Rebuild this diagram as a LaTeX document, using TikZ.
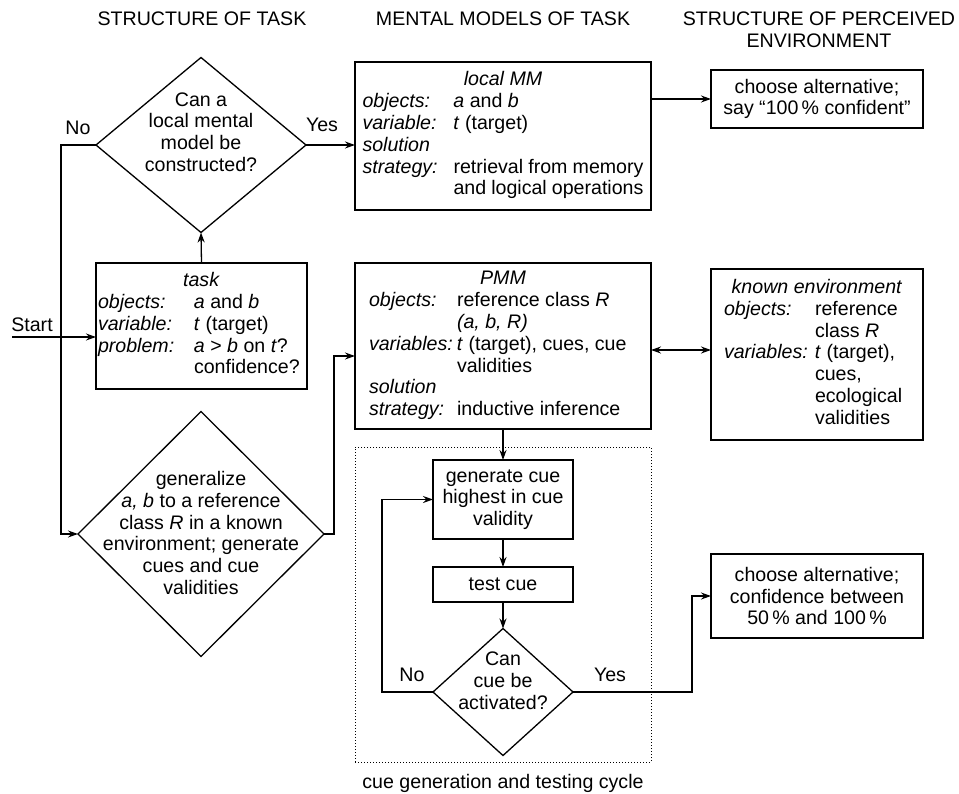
\documentclass[tikz,border=0pt]{standalone}
\usepackage{fontspec}
\setmainfont{Liberation Sans}
\usepackage{array}
\usetikzlibrary{arrows.meta,shapes.geometric}

\begin{document}
\begin{tikzpicture}[
  x=1pt,y=-1pt,
  >={Stealth[length=10pt,width=7pt]},
  every node/.style={font={\fontsize{19.6}{21.8}\selectfont}},
  box/.style={draw,line width=1.3pt,inner sep=0pt,outer sep=0pt,align=center},
  diam/.style={draw,diamond,line width=1.3pt,inner sep=0pt,outer sep=0pt},
  txt/.style={align=center,inner sep=0pt},
  conn/.style={->,line width=1.3pt}
]
\useasboundingbox (0,0) rectangle (959,794);
% column titles
\node[txt] (t1) at (202,19) {STRUCTURE OF TASK};
\node[txt] (t2) at (503,19) {MENTAL MODELS OF TASK};
\node[txt] (t3) at (819,30) {STRUCTURE OF PERCEIVED\\ENVIRONMENT};
% left column
\node[diam,minimum width=210pt,minimum height=175pt] (q1) at (201,145) {};
\node[txt] (q1txt) at (201,132) {Can a\\local mental\\model be\\constructed?};
\node[box,minimum width=211pt,minimum height=126pt] (task) at (201.5,326) {%
  \begin{tabular}{@{}p{96pt}@{}p{111pt}@{}}
  \multicolumn{2}{c}{\textit{task}}\\
  \textit{objects:} & \textit{a} and \textit{b}\\
  \textit{variable:} & \textit{t} (target)\\
  \textit{problem:} & \textit{a} > \textit{b} on \textit{t}?\\
   & confidence?
  \end{tabular}};
\node[diam,minimum width=246pt,minimum height=245pt] (q2) at (201,534) {};
\node[txt] (q2txt) at (201,533) {generalize\\\textit{a, b} to a reference\\class \textit{R} in a known\\environment; generate\\cues and cue\\validities};
% middle column
\node[box,minimum width=296pt,minimum height=148pt] (localmm) at (503,136) {%
  \begin{tabular}{@{}p{91pt}@{}p{190pt}@{}}
  \multicolumn{2}{c}{\textit{local MM}}\\
  \textit{objects:} & \textit{a} and \textit{b}\\
  \textit{variable:} & \textit{t} (target)\\
  \textit{solution} & \\
  \textit{strategy:} & retrieval from memory\\
   & and logical operations
  \end{tabular}};
\node[box,minimum width=296pt,minimum height=166pt] (pmm) at (503,346) {%
  \begin{tabular}{@{}p{88pt}@{}p{180pt}@{}}
  \multicolumn{2}{c}{\textit{PMM}}\\
  \textit{objects:} & reference class \textit{R}\\
   & \textit{(a, b, R)}\\
  \textit{variables:} & \textit{t} (target), cues, cue\\
   & validities\\
  \textit{solution} & \\
  \textit{strategy:} & inductive inference
  \end{tabular}};
\node[draw,dotted,line width=1pt,inner sep=0pt,minimum width=296pt,minimum height=315pt] (loopbox) at (503,604.5) {};
\node[txt] (looplbl) at (503,783) {cue generation and testing cycle};
\node[box,minimum width=140pt,minimum height=79pt] (gen) at (503,499.5) {generate cue\\highest in cue\\validity};
\node[box,minimum width=140pt,minimum height=35pt] (test) at (503,584.5) {test cue};
\node[diam,minimum width=140pt,minimum height=127pt] (q3) at (503,692) {};
\node[txt] (q3txt) at (503,681) {Can\\cue be\\activated?};
% right column
\node[box,minimum width=212pt,minimum height=58pt] (choose1) at (817,99) {choose alternative;\\say “100\,\% confident”};
\node[box,minimum width=212pt,minimum height=171pt] (known) at (817,354.5) {%
  \begin{tabular}{@{}p{91pt}@{}p{95pt}@{}}
  \multicolumn{2}{c}{\textit{known environment}}\\
  \textit{objects:} & reference\\
   & class \textit{R}\\
  \textit{variables:} & \textit{t} (target),\\
   & cues,\\
   & ecological\\
   & validities
  \end{tabular}};
\node[box,minimum width=212pt,minimum height=84pt] (choose2) at (817,596) {choose alternative;\\confidence between\\50\,\% and 100\,\%};
% branch labels
\node[txt] (no1) at (78,128) {No};
\node[txt] (yes1) at (322,125) {Yes};
\node[txt] (no3) at (412,675) {No};
\node[txt] (yes3) at (610,675) {Yes};
\node[txt] (startlbl) at (32,325) {Start};
% connectors
\coordinate (start) at (12,337);
\draw[conn] (start) -- (start -| task.west);
\foreach \a/\bb in {task.north/q1.south,pmm.south/gen.north,gen.south/test.north,test.south/q3.north}
  \draw[conn] (\a) -- (\bb);
\draw[conn] (q1.east) -- (q1.east -| localmm.west);
\draw[conn] (localmm.east |- choose1.west) -- (choose1.west);
\draw[conn] (q1.west) -- ++(-35,0) |- (q2.west);
\draw[conn] (q2.east) -- ++(10,0) |- ([yshift=-10pt]pmm.west);
\coordinate (pmmr) at ([yshift=-4pt]pmm.east);
\draw[conn,<->] (pmmr) -- (pmmr -| known.west);
\draw[conn] (q3.west) -- ++(-51,0) |- (gen.west);
\draw[conn] (q3.east) -- ++(119,0) |- (choose2.west);
\end{tikzpicture}
\end{document}
